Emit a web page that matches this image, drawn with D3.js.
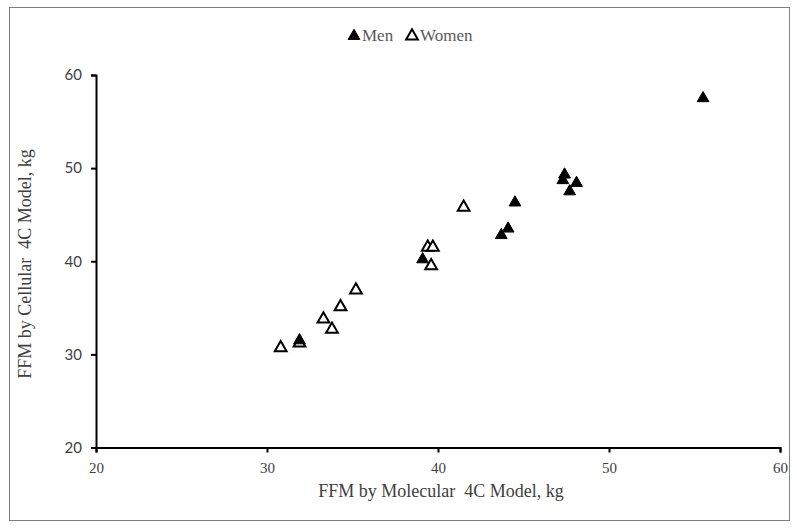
<!DOCTYPE html>
<html>
<head>
<meta charset="utf-8">
<script src="https://cdn.jsdelivr.net/npm/d3@7"></script>
<style>
body { margin: 0; background: #fff; }
svg text { white-space: pre; }
</style>
</head>
<body>
<svg id="chart" width="797" height="528"></svg>
<script>
// values: [molecular 4C, cellular 4C]
var menX = [31.9, 39.1, 43.7, 44.1, 44.5, 47.4, 47.3, 48.1, 47.7, 55.5];
var menY = [31.5, 40.2, 42.8, 43.5, 46.3, 49.3, 48.7, 48.4, 47.5, 57.5];
var womenX = [30.8, 31.9, 33.3, 33.8, 34.3, 35.2, 39.4, 39.7, 39.6, 41.5];
var womenY = [30.7, 31.2, 33.8, 32.7, 35.1, 36.9, 41.5, 41.5, 39.5, 45.8];
var xTicks = [20, 30, 40, 50, 60];
var yTicks = [20, 30, 40, 50, 60];

var svg = d3.select("#chart");

// outer frame
svg.append("rect")
	.attr("x", 9.5).attr("y", 7.5)
	.attr("width", 780).attr("height", 513)
	.style("fill", "none").style("stroke", "#7f7f7f");

var x = d3.scaleLinear().domain([20, 60]).range([96, 780]);
var y = d3.scaleLinear().domain([20, 60]).range([447.5, 75]);

var xAxis = svg.append("g")
	.attr("transform", "translate(0,447.5)")
	.call(d3.axisBottom(x).tickValues(xTicks).tickSize(5).tickPadding(10));
xAxis.select(".domain").style("stroke", "#000").style("stroke-width", 2);
xAxis.selectAll(".tick line").style("stroke", "#000").style("stroke-width", 2);
xAxis.selectAll("text")
	.style("font-family", "'Liberation Serif', serif")
	.style("font-size", "15px").style("fill", "#404040");

var yAxis = svg.append("g")
	.attr("transform", "translate(96,0)")
	.call(d3.axisLeft(y).tickValues(yTicks).tickSize(5).tickPadding(9));
yAxis.select(".domain").style("stroke", "#000").style("stroke-width", 2);
yAxis.selectAll(".tick line").style("stroke", "#000").style("stroke-width", 2);
yAxis.selectAll("text")
	.style("font-family", "Lato, sans-serif")
	.style("font-size", "15px").style("fill", "#404040");

// axis titles
svg.append("text")
	.attr("x", 441).attr("y", 497)
	.attr("text-anchor", "middle")
	.style("font-family", "'Liberation Serif', serif")
	.style("font-size", "18px").style("fill", "#404040")
	.text("FFM by Molecular  4C Model, kg");

svg.append("text")
	.attr("transform", "translate(31,264) rotate(-90)")
	.attr("text-anchor", "middle")
	.style("font-family", "'Liberation Serif', serif")
	.style("font-size", "18px").style("fill", "#404040")
	.text("FFM by Cellular  4C Model, kg");

var tri = d3.symbol().type(d3.symbolTriangle).size(60);

var women = womenX.map(function(v, i) { return {x: v, y: womenY[i]}; });
var men = menX.map(function(v, i) { return {x: v, y: menY[i]}; });

svg.append("g").selectAll("path")
	.data(women)
	.enter().append("path")
	.attr("d", tri)
	.attr("transform", function(d) { return "translate(" + x(d.x) + "," + y(d.y) + ")"; })
	.style("fill", "#fff").style("stroke", "#000").style("stroke-width", 2);

svg.append("g").selectAll("path")
	.data(men)
	.enter().append("path")
	.attr("d", tri)
	.attr("transform", function(d) { return "translate(" + x(d.x) + "," + y(d.y) + ")"; })
	.style("fill", "#000").style("stroke", "#000").style("stroke-width", 1);

// legend
var legend = svg.append("g");
legend.append("path").attr("d", tri)
	.attr("transform", "translate(354,36)")
	.style("fill", "#000").style("stroke", "#000").style("stroke-width", 1);
legend.append("text").attr("x", 362).attr("y", 41)
	.style("font-family", "'Liberation Serif', serif")
	.style("font-size", "17px").style("fill", "#595959")
	.text("Men");
legend.append("path").attr("d", tri)
	.attr("transform", "translate(412,36)")
	.style("fill", "#fff").style("stroke", "#000").style("stroke-width", 2);
legend.append("text").attr("x", 420).attr("y", 41)
	.style("font-family", "'Liberation Serif', serif")
	.style("font-size", "17px").style("fill", "#595959")
	.text("Women");
</script>
</body>
</html>
